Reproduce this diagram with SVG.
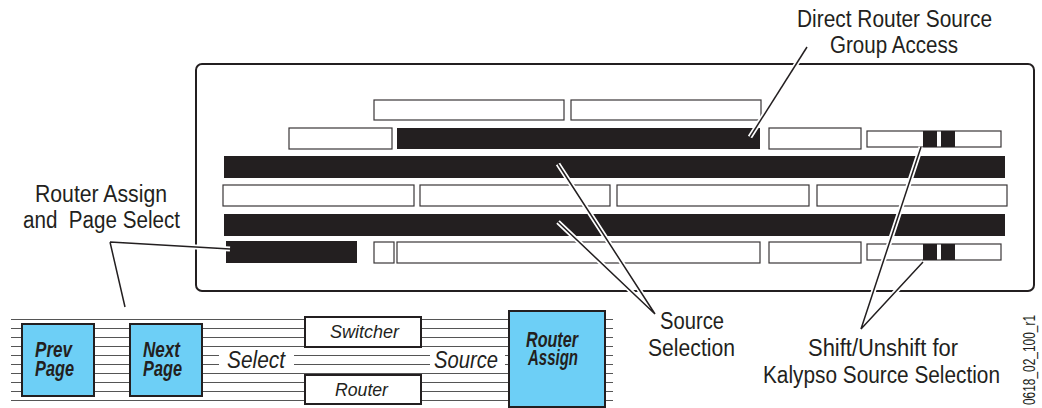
<svg xmlns="http://www.w3.org/2000/svg" width="1042" height="408" viewBox="0 0 1042 408">
<style>
text{font-family:"Liberation Sans Narrow","Liberation Sans",Arial,sans-serif;fill:#231f20;}
.lbl{font-size:23px;}
.it{font-style:italic;}
.bi{font-style:italic;font-weight:bold;font-size:22px;}
.w{fill:#fff;stroke:#3a3637;stroke-width:1.2;}
.b{fill:#231f20;}
.blue{fill:#6dcff6;stroke:#231f20;stroke-width:2;}
.box{fill:#fff;stroke:#231f20;stroke-width:2;}
.ln{stroke:#555;stroke-width:1;fill:none;}
.halo{stroke:#fff;stroke-width:5;fill:none;stroke-linecap:butt;}
.lead{stroke:#231f20;stroke-width:1.5;fill:none;}
</style>
<rect width="1042" height="408" fill="#fff"/>

<g id="panel">
<rect x="196" y="64" width="838" height="227" rx="6" fill="#fff" stroke="#231f20" stroke-width="2"/>
<rect class="w" x="374" y="100" width="190" height="20"/>
<rect class="w" x="571" y="100" width="190" height="20"/>
<rect class="w" x="289" y="128" width="103" height="21"/>
<rect class="b" x="397" y="128" width="363" height="21"/>
<rect class="w" x="769" y="128" width="92" height="21"/>
<rect class="w" x="867" y="131" width="134" height="16"/>
<rect class="b" x="923" y="131" width="14" height="16"/>
<rect class="b" x="941" y="131" width="14" height="16"/>
<rect class="b" x="224" y="156" width="781" height="22"/>
<rect class="w" x="223" y="185" width="191" height="21"/>
<rect class="w" x="420" y="185" width="190" height="21"/>
<rect class="w" x="617" y="185" width="192" height="21"/>
<rect class="w" x="817" y="185" width="190" height="21"/>
<rect class="b" x="224" y="214" width="781" height="22"/>
<rect class="b" x="226" y="241" width="131" height="22"/>
<rect class="w" x="374" y="242" width="20" height="21"/>
<rect class="w" x="397" y="242" width="363" height="21"/>
<rect class="w" x="769" y="242" width="92" height="21"/>
<rect class="w" x="867" y="244" width="134" height="16"/>
<rect class="b" x="923" y="244" width="14" height="16"/>
<rect class="b" x="941" y="244" width="14" height="16"/>
</g>

<g id="strip-lines">
<path class="ln" d="M11 319.5H613M11 328.5H613M11 337.5H613M11 346.5H613M11 373.5H613M11 382.5H613M11 391.5H613M11 400.5H613"/>
<path class="ln" d="M11 355.5H219M294 355.5H430M505 355.5H613M11 364.5H219M294 364.5H430M505 364.5H613"/>
</g>

<g id="prev-page">
<rect class="blue" x="22" y="324" width="72" height="72"/>
<text class="bi" x="35" y="357" textLength="37" lengthAdjust="spacingAndGlyphs">Prev</text>
<text class="bi" x="35" y="376" textLength="39" lengthAdjust="spacingAndGlyphs">Page</text>
</g>
<g id="next-page">
<rect class="blue" x="130" y="324" width="72" height="72"/>
<text class="bi" x="143" y="357" textLength="37" lengthAdjust="spacingAndGlyphs">Next</text>
<text class="bi" x="143" y="376" textLength="39" lengthAdjust="spacingAndGlyphs">Page</text>
</g>
<g id="select-label">
<text class="it" x="227" y="368" font-size="24" textLength="58" lengthAdjust="spacingAndGlyphs">Select</text>
</g>
<g id="switcher">
<rect class="box" x="305" y="317" width="116" height="30"/>
<text class="it" x="330" y="338" font-size="19" textLength="69" lengthAdjust="spacingAndGlyphs">Switcher</text>
</g>
<g id="router">
<rect class="box" x="305" y="375" width="116" height="29"/>
<text class="it" x="335" y="396" font-size="19" textLength="53" lengthAdjust="spacingAndGlyphs">Router</text>
</g>
<g id="source-label">
<text class="it" x="434" y="368" font-size="24" textLength="64" lengthAdjust="spacingAndGlyphs">Source</text>
</g>
<g id="router-assign">
<rect class="blue" x="509" y="311" width="96" height="96"/>
<text class="bi" x="526" y="347" textLength="52" lengthAdjust="spacingAndGlyphs">Router</text>
<text class="bi" x="528" y="365" textLength="50" lengthAdjust="spacingAndGlyphs">Assign</text>
</g>

<g id="connectors">
<path class="halo" d="M750 137L807 47"/>
<path class="lead" d="M750 137L807 47"/>
<path class="halo" d="M110 242L230 249M110 242L125 307"/>
<path class="lead" d="M110 242L230 249M110 242L125 307"/>
<path class="halo" d="M558 164L655 314M558 222L655 314"/>
<path class="lead" d="M558 164L655 314L558 222"/>
<path class="halo" d="M921 147L861 329M923 262L861 329"/>
<path class="lead" d="M921 147L861 329L923 262"/>
</g>

<g id="labels">
<text class="lbl" x="797" y="27" textLength="195" lengthAdjust="spacingAndGlyphs">Direct Router Source</text>
<text class="lbl" x="830" y="53" textLength="128" lengthAdjust="spacingAndGlyphs">Group Access</text>
<text class="lbl" x="35" y="202" textLength="132" lengthAdjust="spacingAndGlyphs">Router Assign</text>
<text class="lbl" x="23" y="228" xml:space="preserve" textLength="157" lengthAdjust="spacingAndGlyphs">and  Page Select</text>
<text class="lbl" x="660" y="329" textLength="64" lengthAdjust="spacingAndGlyphs">Source</text>
<text class="lbl" x="648" y="356" textLength="87" lengthAdjust="spacingAndGlyphs">Selection</text>
<text class="lbl" x="808" y="356" textLength="150" lengthAdjust="spacingAndGlyphs">Shift/Unshift for</text>
<text class="lbl" x="763" y="383" textLength="237" lengthAdjust="spacingAndGlyphs">Kalypso Source Selection</text>
<text x="1035" y="405" font-size="16" transform="rotate(-90 1035 405)" textLength="90" lengthAdjust="spacingAndGlyphs">0618_02_100_r1</text>
</g>
</svg>
